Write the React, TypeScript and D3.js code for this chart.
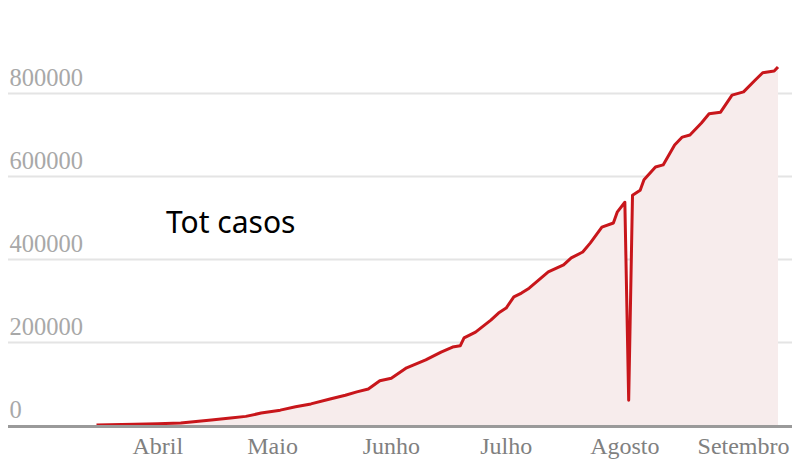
import React, { useRef, useEffect } from "react";
import * as d3 from "d3";

// daily totals (selected days)
const dates = [
  "2020-03-16", "2020-03-26", "2020-04-01", "2020-04-07", "2020-04-15",
  "2020-04-20", "2020-04-24", "2020-04-28", "2020-05-03", "2020-05-07",
  "2020-05-11", "2020-05-16", "2020-05-20", "2020-05-23", "2020-05-26",
  "2020-05-29", "2020-06-01", "2020-06-05", "2020-06-10", "2020-06-14",
  "2020-06-17", "2020-06-19", "2020-06-20", "2020-06-23", "2020-06-27",
  "2020-06-29", "2020-07-01", "2020-07-03", "2020-07-05", "2020-07-07",
  "2020-07-12", "2020-07-16", "2020-07-18", "2020-07-21", "2020-07-23",
  "2020-07-26", "2020-07-29", "2020-07-30", "2020-08-01", "2020-08-02",
  "2020-08-03", "2020-08-05", "2020-08-06", "2020-08-09", "2020-08-11",
  "2020-08-14", "2020-08-16", "2020-08-18", "2020-08-21", "2020-08-23",
  "2020-08-26", "2020-08-29", "2020-09-01", "2020-09-04", "2020-09-06",
  "2020-09-09", "2020-09-10",
];
const totalCases = [
  1000, 3000, 4500, 6000, 13000,
  18000, 22000, 30000, 37000, 45000,
  52000, 64000, 73000, 81000, 88000,
  108000, 114000, 139000, 158000, 177000,
  189000, 192000, 211000, 225000, 254000,
  271000, 283000, 310000, 319000, 331000,
  370000, 387000, 404000, 418000, 440000,
  478000, 488000, 514000, 538000, 61000,
  555000, 567000, 592000, 623000, 628000,
  676000, 695000, 700000, 729000, 751000,
  755000, 796000, 804000, 832000, 850000,
  854000, 864000,
];
const yTicks = [0, 200000, 400000, 600000, 800000];
const monthTicks = ["2020-04-01", "2020-05-01", "2020-06-01", "2020-07-01", "2020-08-01", "2020-09-01"];
const monthLabels = ["Abril", "Maio", "Junho", "Julho", "Agosto", "Setembro"];

const App: React.FC = () => {
  const chartRef = useRef<SVGSVGElement>(null);

  useEffect(() => {
    if (!chartRef.current) return;
    const svg = d3.select(chartRef.current);
    svg.selectAll("*").remove();

    const parse = d3.timeParse("%Y-%m-%d");
    const data = dates.map((d, i) => ({ date: parse(d) as Date, value: totalCases[i] }));

    const x = d3
      .scaleTime()
      .domain([parse("2020-03-16") as Date, parse("2020-09-10") as Date])
      .range([96.5, 778]);
    const y = d3.scaleLinear().domain([0, 800000]).range([425.5, 93.5]);

    // grid lines + y labels
    const grid = svg.append("g");
    grid
      .selectAll("line")
      .data(yTicks.filter((t) => t > 0))
      .enter()
      .append("line")
      .attr("x1", 8)
      .attr("x2", 792)
      .attr("y1", (d) => y(d))
      .attr("y2", (d) => y(d))
      .attr("stroke", "#e4e4e4")
      .attr("stroke-width", 2);
    grid
      .selectAll("text")
      .data(yTicks)
      .enter()
      .append("text")
      .attr("x", 9.5)
      .attr("y", (d) => y(d) - 8)
      .attr("font-family", "Liberation Serif, serif")
      .attr("font-size", 24.5)
      .attr("fill", "#a8a8a8")
      .text((d) => String(d));

    // area + line
    const area = d3
      .area<{ date: Date; value: number }>()
      .x((d) => x(d.date))
      .y0(y(0))
      .y1((d) => y(d.value));
    const line = d3
      .line<{ date: Date; value: number }>()
      .x((d) => x(d.date))
      .y((d) => y(d.value));

    svg.append("path").datum(data).attr("d", area).attr("fill", "#f7ecec");
    svg
      .append("path")
      .datum(data)
      .attr("d", line)
      .attr("fill", "none")
      .attr("stroke", "#c8161b")
      .attr("stroke-width", 3)
      .attr("stroke-linejoin", "round");

    // baseline
    svg
      .append("line")
      .attr("x1", 8)
      .attr("x2", 792)
      .attr("y1", y(0) + 1)
      .attr("y2", y(0) + 1)
      .attr("stroke", "#9a9a9a")
      .attr("stroke-width", 3);

    // month labels
    svg
      .append("g")
      .selectAll("text")
      .data(monthTicks)
      .enter()
      .append("text")
      .attr("x", (d) => x(parse(d) as Date))
      .attr("y", 454)
      .attr("text-anchor", "middle")
      .attr("font-family", "Liberation Serif, serif")
      .attr("font-size", 24)
      .attr("fill", "#808080")
      .text((d, i) => monthLabels[i]);

    svg
      .append("text")
      .attr("x", 166)
      .attr("y", 233)
      .attr("font-family", "Noto Sans, sans-serif")
      .attr("font-size", 30)
      .attr("fill", "#000")
      .text("Tot casos");
  }, []);

  return (
    <svg
      ref={chartRef}
      width="796"
      height="459"
      style={{ position: "absolute", left: 0, top: 0, background: "#fff" }}
    ></svg>
  );
};

export default App;
